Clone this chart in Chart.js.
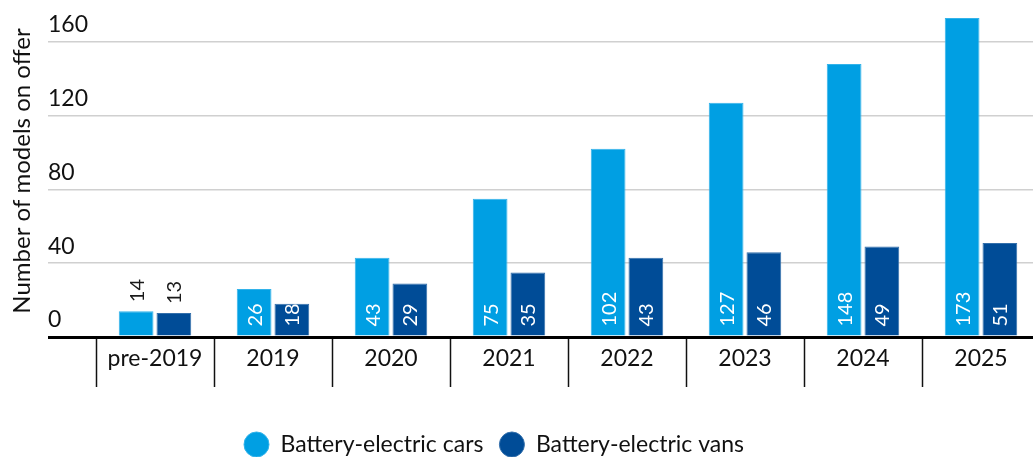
<!DOCTYPE html>
<html>
<head>
<meta charset="utf-8">
<script src="https://cdn.jsdelivr.net/npm/chart.js@4/dist/chart.umd.min.js"></script>
<style>
  html, body { margin: 0; padding: 0; overflow: hidden; background: #fff; }
  #wrap { width: 1033px; height: 457px; overflow: hidden; position: relative; }
  canvas { display: block; }
</style>
</head>
<body>
<div id="wrap"><canvas id="chart" width="1040" height="466"></canvas></div>
<script>
// data
var categories = ["pre-2019", "2019", "2020", "2021", "2022", "2023", "2024", "2025"];
var carsValues = [14, 26, 43, 75, 102, 127, 148, 173];
var vansValues = [13, 18, 29, 35, 43, 46, 49, 51];
var yTicks = [0, 40, 80, 120, 160];

var FONT = "Lato";
var lightBlue = "#009fe3";
var darkBlue = "#004c97";

// value labels written sideways, inside the bar when it fits, above it otherwise
var barLabels = {
    id: "barLabels",
    afterDatasetsDraw: function (chart) {
        var ctx = chart.ctx;
        ctx.save();
        ctx.font = "20px " + FONT;
        ctx.textBaseline = "middle";
        chart.data.datasets.forEach(function (ds, di) {
            var meta = chart.getDatasetMeta(di);
            meta.data.forEach(function (bar, i) {
                var txt = String(ds.data[i]);
                var w = ctx.measureText(txt).width;
                var h = bar.base - bar.y;
                ctx.save();
                ctx.textAlign = "left";
                if (h > w + 8) {
                    ctx.translate(bar.x, bar.base - 9);
                    ctx.fillStyle = "#ffffff";
                } else {
                    ctx.translate(bar.x, bar.y - 9);
                    ctx.fillStyle = "#1a1a1a";
                }
                ctx.rotate(-Math.PI / 2);
                ctx.fillText(txt, 0, 1);
                ctx.restore();
            });
        });
        ctx.restore();
    }
};

// legend sits a little left of centre in the original
var legendShift = {
    id: "legendShift",
    afterLayout: function (chart) {
        chart.legend.left -= 26;
        chart.legend.right -= 26;
    }
};

new Chart(document.getElementById("chart"), {
    type: "bar",
    data: {
        labels: categories,
        datasets: [
            {
                label: "Battery-electric cars",
                data: carsValues,
                backgroundColor: lightBlue,
                borderColor: "#33b3ea",
                borderWidth: 1,
            },
            {
                label: "Battery-electric vans",
                data: vansValues,
                backgroundColor: darkBlue,
                borderColor: "#336fab",
                borderWidth: 1,
            }
        ]
    },
    options: {
        responsive: false,
        animation: false,
        devicePixelRatio: 1,
        categoryPercentage: 0.64,
        barPercentage: 0.92,
        layout: { padding: { top: 5, left: 0, right: 0, bottom: 0 } },
        scales: {
            x: {
                grid: {
                    offset: true,
                    drawOnChartArea: false,
                    drawTicks: true,
                    tickLength: 50,
                    tickColor: "#111",
                    tickWidth: 1.5,
                },
                border: { display: false },
                ticks: {
                    padding: -42,
                    color: "#111",
                    font: { family: FONT, size: 23 },
                    maxRotation: 0,
                },
                afterFit: function (scale) { scale.height = 80; },
            },
            y: {
                min: 0,
                max: 180,
                afterFit: function (scale) { scale.width = 96; },
                afterBuildTicks: function (scale) {
                    scale.ticks = yTicks.map(function (v) { return { value: v }; });
                },
                grid: {
                    color: function (c) { return c.tick && c.tick.value === 0 ? "#000" : "#d0d0d0"; },
                    lineWidth: function (c) { return c.tick && c.tick.value === 0 ? 3 : 1.5; },
                    tickColor: function (c) { return c.tick && c.tick.value === 0 ? "#000" : "#d0d0d0"; },
                    tickWidth: function (c) { return c.tick && c.tick.value === 0 ? 3 : 1.5; },
                    drawTicks: true,
                    tickLength: 48,
                },
                border: { display: false },
                ticks: {
                    mirror: true,
                    padding: -48,
                    labelOffset: -17,
                    color: "#111",
                    font: { family: FONT, size: 23 },
                },
                title: {
                    display: true,
                    text: "Number of models on offer",
                    color: "#111",
                    font: { family: FONT, size: 24 },
                    padding: { top: 8, bottom: 4 },
                },
            },
        },
        plugins: {
            legend: {
                position: "bottom",
                labels: {
                    usePointStyle: true,
                    pointStyle: "circle",
                    pointStyleWidth: 25,
                    boxHeight: 17.7,
                    padding: 16,
                    color: "#111",
                    font: { family: FONT, size: 23 },
                },
            },
            tooltip: { enabled: false },
        },
    },
    plugins: [barLabels, legendShift],
});
</script>
</body>
</html>
